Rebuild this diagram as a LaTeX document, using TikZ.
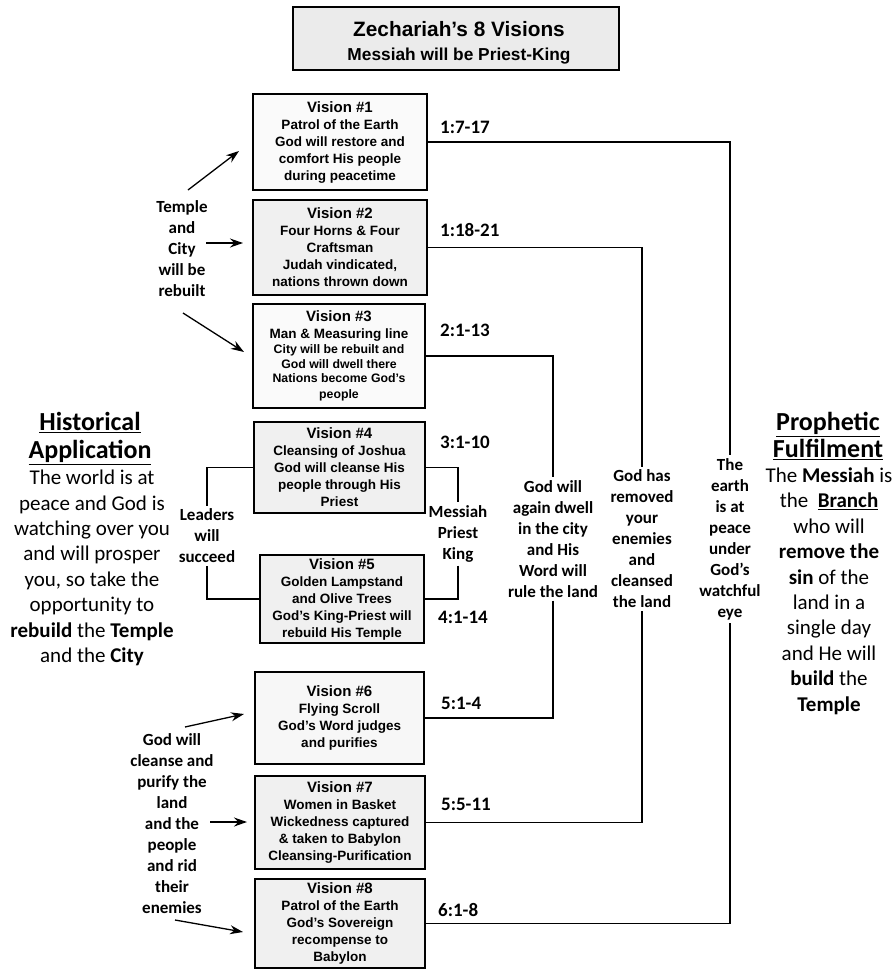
\documentclass[tikz,border=0pt]{standalone}
\usepackage{fontspec}
\setmainfont{Carlito}
\newfontfamily\arialf{Liberation Sans}
\usetikzlibrary{arrows.meta}
\begin{document}
\begin{tikzpicture}[x=1pt,y=-1pt,
  vbox/.style={draw, line width=1.8pt, align=center, inner sep=0pt,
    font=\arialf\bfseries\fontsize{13.5}{17}\selectfont},
  ref/.style={anchor=west, inner sep=0pt, font=\bfseries\fontsize{19}{22}\selectfont},
  lab/.style={align=center, inner sep=3pt, font=\bfseries\fontsize{17}{21}\selectfont},
  sidehead/.style={align=center, inner sep=0pt, font=\bfseries\fontsize{26}{27.5}\selectfont},
  sidebody/.style={align=center, inner sep=0pt, font=\fontsize{21}{25.4}\selectfont},
  conn/.style={line width=1.8pt},
  arr/.style={line width=1.3pt, -{Stealth[length=13pt,width=9pt]}}
]
\useasboundingbox (0,0) rectangle (892,972);
\fill[white] (0,0) rectangle (892,972);

% title
\node[draw, line width=2pt, fill=black!8, minimum width=326pt, minimum height=63pt, inner sep=0pt] (tbox) at (456,38) {};
\node[inner sep=0pt, font=\arialf\bfseries\fontsize{20.8}{24}\selectfont] (t1) at (459,29) {Zechariah’s 8 Visions};
\node[inner sep=0pt, font=\arialf\bfseries\fontsize{17.3}{20}\selectfont] (t2) at (459,56) {Messiah will be Priest-King};

\newcommand{\vt}[1]{{\fontsize{15}{17}\selectfont #1}}

% vision boxes
\node[vbox, fill=black!2, minimum width=174pt, minimum height=96pt] (v1) at (340,142)
  {\vt{Vision \#1}\\Patrol of the Earth\\God will restore and\\comfort His people\\during peacetime};
\node[vbox, fill=black!6, minimum width=174pt, minimum height=95pt] (v2) at (340,247.5)
  {\vt{Vision \#2}\\Four Horns \& Four\\Craftsman\\Judah vindicated,\\nations thrown down};
\node[vbox, fill=black!2, minimum width=172pt, minimum height=104pt] (v3) at (339,356)
  {\vt{Vision \#3}\\Man \& Measuring line\\[-1.5pt]{\fontsize{12.3}{14.5}\selectfont City will be rebuilt and}\\[-2.5pt]{\fontsize{12.3}{14.5}\selectfont God will dwell there}\\[-2.5pt]{\fontsize{12.3}{14.5}\selectfont Nations become God’s}\\[-1pt]{\fontsize{12.3}{14.5}\selectfont people}};
\node[vbox, fill=black!6, minimum width=171pt, minimum height=91pt] (v4) at (339.5,467.5)
  {\vt{Vision \#4}\\Cleansing of Joshua\\God will cleanse His\\people through His\\Priest};
\node[vbox, fill=black!6, minimum width=164pt, minimum height=88pt] (v5) at (342,599)
  {\vt{Vision \#5}\\Golden Lampstand\\and Olive Trees\\God’s King-Priest will\\rebuild His Temple};
\node[vbox, fill=black!3, minimum width=169pt, minimum height=92pt] (v6) at (339.5,718)
  {\vt{Vision \#6}\\Flying Scroll\\God’s Word judges\\and purifies};
\node[vbox, fill=black!6, minimum width=170pt, minimum height=93pt] (v7) at (340,822.5)
  {\vt{Vision \#7}\\Women in Basket\\Wickedness captured\\\& taken to Babylon\\Cleansing-Purification};
\node[vbox, fill=black!6, minimum width=170pt, minimum height=89pt] (v8) at (340,923.5)
  {\vt{Vision \#8}\\Patrol of the Earth\\God’s Sovereign\\recompense to\\Babylon};

% scripture references
\node[ref] (r1) at (440,127) {1:7-17};
\node[ref] (r2) at (440,230) {1:18-21};
\node[ref] (r3) at (440,330) {2:1-13};
\node[ref] (r4) at (440,442) {3:1-10};
\node[ref] (r5) at (438,617) {4:1-14};
\node[ref] (r6) at (441,703) {5:1-4};
\node[ref] (r7) at (441,804) {5:5-11};
\node[ref] (r8) at (438,910) {6:1-8};

% middle labels
\node[lab] (m1) at (553,539) {God will\\again dwell\\in the city\\and His\\Word will\\rule the land};
\node[lab] (m2) at (642,539) {God has\\removed\\your\\enemies\\and\\cleansed\\the land};
\node[lab] (m3) at (730,539) {The\\earth\\is at\\peace\\under\\God’s\\watchful\\eye};
\node[lab] (lead) at (207,536) {Leaders\\will\\succeed};
\node[lab] (mess) at (458,534) {Messiah\\Priest\\King};

% connectors
\draw[conn] (v1.east) -| (m3.north);
\draw[conn] (m3.south) |- (v8.east);
\draw[conn] (v2.east) -| (m2.north);
\draw[conn] (m2.south) |- (v7.east);
\draw[conn] (v3.east) -| (m1.north);
\draw[conn] (m1.south) |- (v6.east);
\draw[conn] (v4.west) -| (lead.north);
\draw[conn] (lead.south) |- (v5.west);
\draw[conn] (v4.east) -| (mess.north);
\draw[conn] (mess.south) |- (v5.east);

% left labels with arrows
\node[lab, inner sep=0pt] (tc) at (182,249) {Temple\\and\\City\\will be\\rebuilt};
\node[lab, inner sep=0pt] (gc) at (172,824) {God will\\cleanse and\\purify the\\land\\and the\\people\\and rid\\their\\enemies};
\coordinate (a1s) at (188,190); \coordinate (a1e) at (239,151);
\coordinate (a2s) at (206,243); \coordinate (a2e) at (243,243);
\coordinate (a3s) at (183,313); \coordinate (a3e) at (244,352);
\coordinate (a6s) at (185,727); \coordinate (a6e) at (244,714);
\coordinate (a7s) at (210,822); \coordinate (a7e) at (247,822);
\coordinate (a8s) at (175,920); \coordinate (a8e) at (243,932);
\draw[arr] (a1s) -- (a1e);
\draw[arr] (a2s) -- (a2e);
\draw[arr] (a3s) -- (a3e);
\draw[arr] (a6s) -- (a6e);
\draw[arr] (a7s) -- (a7e);
\draw[arr] (a8s) -- (a8e);

% side texts
\node[sidehead] (hh) at (90,438.5) {\underline{Historical}\\\underline{Application}};
\node[sidebody] (hb) at (92,568) {The world is at\\peace and God is\\watching over you\\and will prosper\\you, so take the\\opportunity to\\\textbf{rebuild} the \textbf{Temple}\\and the \textbf{City}};
\node[sidehead] (ph) at (828,436) {\underline{Prophetic}\\\underline{Fulfilment}};
\node[sidebody] (pb) at (829,591) {The \textbf{Messiah} is\\the \ \underline{\textbf{Branch}}\\who will\\\textbf{remove the}\\\textbf{sin} of the\\land in a\\single day\\and He will\\\textbf{build} the\\\textbf{Temple}};
\end{tikzpicture}
\end{document}
